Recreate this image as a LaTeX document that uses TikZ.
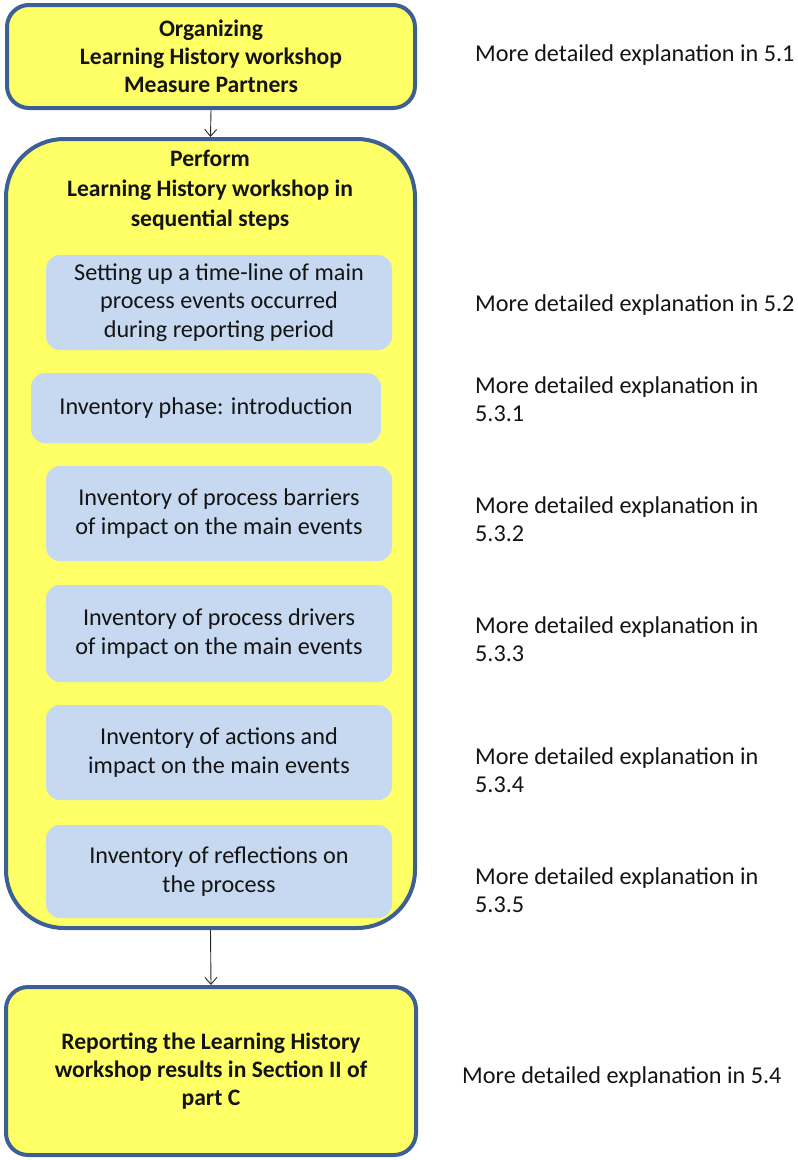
\documentclass[tikz,border=0pt]{standalone}
\usepackage{fontspec}
\setmainfont{Carlito}
\usetikzlibrary{arrows.meta}
\definecolor{boxyellow}{RGB}{255,255,102}
\definecolor{boxblue}{RGB}{60,96,150}
\definecolor{stepblue}{RGB}{198,217,240}
\definecolor{txt}{RGB}{20,20,20}
\begin{document}
\begin{tikzpicture}[x=1pt,y=-1pt,
  phasebox/.style={draw=boxblue,line width=4pt,fill=boxyellow,rounded corners=22pt,
    inner sep=0pt,align=center,font=\fontsize{23.6}{28}\selectfont\bfseries,text=txt},
  stepbox/.style={fill=stepblue,rounded corners=14pt,inner sep=0pt,align=center,
    font=\fontsize{24.2}{28.5}\selectfont,text=txt},
  note/.style={anchor=west,align=left,inner sep=0pt,font=\fontsize{24.2}{28}\selectfont,text=txt},
  flow/.style={draw=black!85,line width=0.9pt,-{Straight Barb[length=7pt,width=12pt,line width=0.9pt]}}
]
\useasboundingbox (0,0) rectangle (798,1160);

% phase 1
\node[phasebox,minimum width=408pt,minimum height=103pt] (organize) at (211,56.5)
  {Organizing\\Learning History workshop\\Measure Partners};

% phase 2 with its sequential steps
\node[phasebox,rounded corners=58pt,minimum width=409pt,minimum height=789pt] (perform) at (210.5,533.5) {};
\node[align=center,inner sep=0pt,font=\fontsize{23.6}{30}\selectfont\bfseries,text=txt] (performtitle) at (210,190)
  {Perform\\Learning History workshop in\\sequential steps};

\node[stepbox,minimum width=346pt,minimum height=95pt] (s1) at (219,302.5)
  {Setting up a time-line of main\\process events occurred\\during reporting period};
\node[stepbox,minimum width=350pt,minimum height=70pt] (s2) at (206,408)
  {Inventory phase: introduction};
\node[stepbox,minimum width=346pt,minimum height=95pt] (s3) at (219,513.5)
  {Inventory of process barriers\\of impact on the main events};
\node[stepbox,minimum width=346pt,minimum height=97pt] (s4) at (219,633.5)
  {Inventory of process drivers\\of impact on the main events};
\node[stepbox,minimum width=346pt,minimum height=95pt] (s5) at (219,752.5)
  {Inventory of actions and\\impact on the main events};
\node[stepbox,minimum width=346pt,minimum height=93pt] (s6) at (219,871.5)
  {Inventory of reflections on\\the process};

% phase 3
\node[phasebox,minimum width=410pt,minimum height=168pt] (report) at (211,1071)
  {Reporting the Learning History\\workshop results in Section II of\\part C};

% connectors
\draw[flow] (organize.south) -- (perform.north);
\draw[flow] (perform.south) -- (report.north);

% references to the detailed sections
\node[note] (n1) at (475,55) {More detailed explanation in 5.1};
\node[note] (n2) at (475,305) {More detailed explanation in 5.2};
\node[note] (n3) at (475,399) {More detailed explanation in\\5.3.1};
\node[note] (n4) at (475,519) {More detailed explanation in\\5.3.2};
\node[note] (n5) at (475,639) {More detailed explanation in\\5.3.3};
\node[note] (n6) at (475,770) {More detailed explanation in\\5.3.4};
\node[note] (n7) at (475,890) {More detailed explanation in\\5.3.5};
\node[note] (n8) at (462,1077) {More detailed explanation in 5.4};
\end{tikzpicture}
\end{document}
